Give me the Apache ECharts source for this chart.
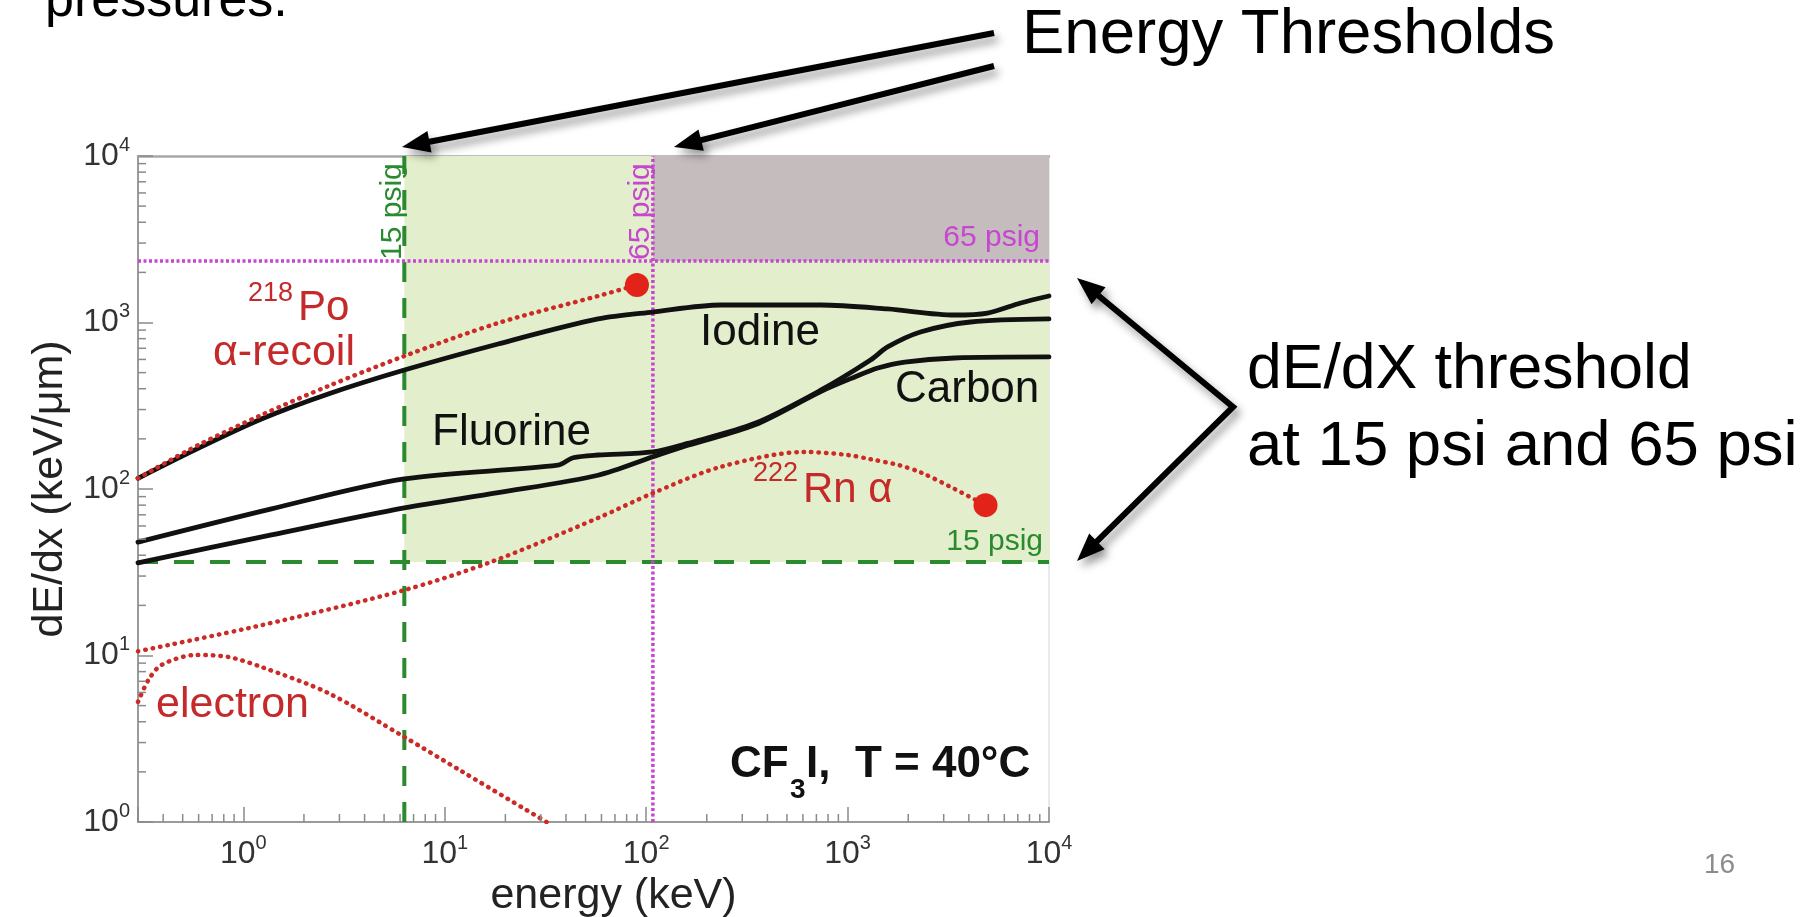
<!DOCTYPE html>
<html><head><meta charset="utf-8">
<script src="https://cdn.jsdelivr.net/npm/echarts@6/dist/echarts.min.js"></script>
<style>html,body{margin:0;padding:0;background:#fff}#c{width:1810px;height:917px}</style>
</head><body><div id="c"></div>
<script>
// ---------------- data ----------------
const xRange = [0.3, 10000];          // energy (keV)
const yRange = [1, 10000];            // dE/dx (keV/um)
const tickValues = [1, 10, 100, 1000, 10000];
const thresholdNames = ['15 psig', '65 psig'];
const thresholdEnergy = [6.3, 108];   // vertical energy thresholds
const thresholdDEDX = [36.5, 2340];   // horizontal dE/dx thresholds

const iodine   = [[0.3,116],[0.6,176],[1.23,263],[2.64,372],[6.3,518],[18.4,743],[57.7,1050],[108,1156],[235,1274],[736,1274],[1580,1206],[3400,1109],[4950,1140],[7230,1310],[10000,1443]];
const fluorine = [[0.3,48],[1.38,76],[6.3,115],[36.5,139],[43.4,154],[57.7,160],[108,167],[161,188],[347,248],[736,392],[1300,595],[1580,713],[2300,877],[4080,1007],[10000,1050]];
const carbon   = [[0.3,36],[1.38,53],[6.3,77],[18.4,95],[57.7,121],[108,156],[161,183],[347,243],[736,385],[1086,471],[1413,533],[1923,579],[3400,612],[10000,621]];
const po218    = [[0.3,116],[0.6,184],[1.23,278],[2.64,415],[6.3,629],[18.4,993],[57.7,1443],[90,1680]];
const rn222    = [[0.3,10.6],[1.23,15.2],[6.3,24.7],[17,36.5],[57.7,67],[108,94.5],[235,136],[614,167],[1000,160],[1300,151],[1800,139],[2300,126],[3400,100],[4840,80]];
const electron = [[0.3,5.26],[0.338,7.13],[0.392,8.77],[0.578,10.07],[0.843,9.8],[1.23,8.53],[2.64,5.95],[6.3,3.24],[12.1,2.02],[32,1.0]];
const alphaEnds = [[90,1680],[4840,80]];

// minor (2..9 per decade) tick positions of the log axes
const minorX = [], minorY = [];
for (let d = -1; d <= 3; d++) for (let m = 2; m <= 9; m++) { const v = m * Math.pow(10, d); if (v > xRange[0] && v < xRange[1]) minorX.push(v); }
for (let d = 0; d <= 3; d++) for (let m = 2; m <= 9; m++) minorY.push(m * Math.pow(10, d));

// ---------------- styles ----------------
const FONT = "'Liberation Sans', Arial, Helvetica, sans-serif";
const RED = '#cc2a26', RED_TXT = '#c42a2a', GREEN = '#2a8a2e', MAG = '#c646d0', BLACK = '#111';
const GREEN_FILL = '#e3efcc', GREY_FILL = '#c5bdbd';

const chart = echarts.init(document.getElementById('c'), null, {renderer: 'canvas'});

function pow10Label(v) {
  const e = Math.round(Math.log10(v));
  if (Math.abs(Math.log10(v) - e) > 1e-6) return '';
  return '{b|10}{s|' + e + '}';
}
const richLabel = {
  b: {fontSize: 32, lineHeight: 42, color: '#333', fontFamily: FONT},
  s: {fontSize: 20, lineHeight: 20, verticalAlign: 'top', color: '#333', fontFamily: FONT}
};

function lineSeries(data, color, width, type, z) {
  return {type: 'line', data, symbol: 'none', smooth: 0.3, silent: true, z: z || 5,
    lineStyle: {color, width, type, cap: 'round', join: 'round'}};
}
function straight(data, color, width, type, z) {
  return {type: 'line', data, symbol: 'none', smooth: false, silent: true, z: z || 3,
    lineStyle: {color, width, type}};
}
const dotted = [0.5, 7];

function T(text, x, baseline, size, color, o) {
  o = o || {};
  return {type: 'text', x: x, y: baseline - 0.35 * size, z: 100, silent: true,
    style: {text, fontSize: size, fontFamily: FONT, fontWeight: o.bold ? 'bold' : 'normal',
      fill: color || '#000', align: o.align || 'left', verticalAlign: 'middle'}};
}
function TV(text, baselineX, startY, size, color) {
  // rotated 90deg counter-clockwise, reading upward
  return {type: 'text', x: baselineX - 0.35 * size, y: startY, rotation: Math.PI / 2, z: 100, silent: true,
    style: {text, fontSize: size, fontFamily: FONT, fill: color, align: 'left', verticalAlign: 'middle'}};
}
const SH = {shadowBlur: 8, shadowColor: 'rgba(0,0,0,0.4)', shadowOffsetX: 4, shadowOffsetY: 6};
function head(tx, ty, fx, fy) {
  const dx = tx - fx, dy = ty - fy, L = Math.hypot(dx, dy), ux = dx / L, uy = dy / L, len = 28, hw = 11;
  const bx = tx - ux * len, by = ty - uy * len;
  return {type: 'polygon', z: 90, silent: true,
    shape: {points: [[tx, ty], [bx - uy * hw, by + ux * hw], [bx + uy * hw, by - ux * hw]]},
    style: Object.assign({fill: '#000'}, SH)};
}
function base(tx, ty, fx, fy) {
  const dx = tx - fx, dy = ty - fy, L = Math.hypot(dx, dy);
  return [tx - dx / L * 24, ty - dy / L * 24];
}
function arrow(fx, fy, tx, ty) {
  const b = base(tx, ty, fx, fy);
  return [{type: 'line', z: 90, silent: true, shape: {x1: fx, y1: fy, x2: b[0], y2: b[1]},
    style: Object.assign({stroke: '#000', lineWidth: 6}, SH)}, head(tx, ty, fx, fy)];
}

const vx = 1233, vy = 407;
const b1 = base(1077, 278, vx, vy), b2 = base(1077, 561, vx, vy);
const graphics = [].concat(
  arrow(994, 33, 402, 147),
  arrow(994, 66, 674, 147),
  [{type: 'polyline', z: 90, silent: true, shape: {points: [b1, [vx, vy], b2]},
    style: Object.assign({stroke: '#000', lineWidth: 6, fill: null, lineJoin: 'miter'}, SH)},
   head(1077, 278, vx, vy), head(1077, 561, vx, vy)],
  [
    T('pressures.', 45, 20, 52, '#000'),
    T('Energy Thresholds', 1022, 58, 63.5, '#000'),
    T('dE/dX threshold', 1247, 393, 62.5, '#000'),
    T('at 15 psi and 65 psi', 1247, 470, 63.5, '#000'),
    T('16', 1704, 875, 28, '#8c8c8c'),
    T('218', 248, 303, 27, RED_TXT),
    T('Po', 298, 323, 42, RED_TXT),
    T('\u03b1-recoil', 213, 368, 43, RED_TXT),
    T('Fluorine', 432, 448, 44, BLACK),
    T('Iodine', 700, 348, 44, BLACK),
    T('Carbon', 895, 405, 44, BLACK),
    T('222', 753, 483, 27, RED_TXT),
    T('Rn \u03b1', 803, 505, 42, RED_TXT),
    T('electron', 156, 720, 43, RED_TXT),
    T('CF', 730, 780, 44, BLACK, {bold: true}),
    T('3', 790, 800, 28, BLACK, {bold: true}),
    T('I,  T = 40\u00b0C', 806, 780, 44, BLACK, {bold: true}),
    T(thresholdNames[1], 1040, 248, 30, MAG, {align: 'right'}),
    T(thresholdNames[0], 1043, 552, 30, GREEN, {align: 'right'}),
    TV(thresholdNames[0], 403, 260, 30, GREEN),
    TV(thresholdNames[1], 651, 260, 30, MAG)
  ]
);

const option = {
  animation: false,
  backgroundColor: '#fff',
  textStyle: {fontFamily: FONT},
  grid: {left: 138, top: 156, width: 911, height: 666, show: false, outerBoundsMode: 'none', containLabel: false},
  xAxis: [{
    type: 'log', logBase: 10, min: xRange[0], max: xRange[1],
    name: 'energy (keV)', nameLocation: 'middle', nameGap: 52,
    nameTextStyle: {fontSize: 43, color: '#222', fontFamily: FONT, padding: [0, 0, 0, 40]},
    axisLine: {show: true, onZero: false, lineStyle: {color: '#9a9a9a', width: 2}},
    axisTick: {show: true, inside: true, length: 15, lineStyle: {color: '#8a8a8a', width: 1.5}},
    axisLabel: {margin: 11, formatter: pow10Label, rich: richLabel, showMinLabel: true, showMaxLabel: true},
    splitLine: {show: false}, minorTick: {show: false}, minorSplitLine: {show: false}
  }, {
    type: 'log', logBase: 10, min: xRange[0], max: xRange[1], position: 'top',
    axisLine: {show: true, lineStyle: {color: '#a8a8a8', width: 2.5}},
    axisTick: {show: false}, axisLabel: {show: false}, splitLine: {show: false}
  }],
  yAxis: [{
    type: 'log', logBase: 10, min: yRange[0], max: yRange[1],
    name: 'dE/dx (keV/\u03bcm)', nameLocation: 'middle', nameGap: 66, nameRotate: 90,
    nameTextStyle: {fontSize: 43, color: '#222', fontFamily: FONT},
    axisLine: {show: true, onZero: false, lineStyle: {color: '#9a9a9a', width: 2}},
    axisTick: {show: true, inside: true, length: 15, lineStyle: {color: '#8a8a8a', width: 1.5}},
    axisLabel: {margin: 8, formatter: pow10Label, rich: richLabel},
    splitLine: {show: false}, minorTick: {show: false}, minorSplitLine: {show: false}
  }, {
    type: 'log', logBase: 10, min: yRange[0], max: yRange[1], position: 'right',
    axisLine: {show: true, lineStyle: {color: '#e2e2e2', width: 1.5}},
    axisTick: {show: false}, axisLabel: {show: false}, splitLine: {show: false}
  }],
  series: [
    {type: 'line', data: [[xRange[0], yRange[0]]], symbol: 'none', silent: true, z: 1,
     lineStyle: {opacity: 0},
     markArea: {silent: true, data: [
       [{xAxis: thresholdEnergy[0], yAxis: thresholdDEDX[0], itemStyle: {color: GREEN_FILL}}, {xAxis: xRange[1], yAxis: yRange[1]}],
       [{xAxis: thresholdEnergy[1], yAxis: thresholdDEDX[1], itemStyle: {color: GREY_FILL}}, {xAxis: xRange[1], yAxis: yRange[1]}]
     ]}},
    straight([[thresholdEnergy[0], yRange[0]], [thresholdEnergy[0], yRange[1]]], GREEN, 4, [20, 16]),
    straight([[xRange[0], thresholdDEDX[0]], [xRange[1], thresholdDEDX[0]]], GREEN, 4, [20, 16]),
    straight([[thresholdEnergy[1], yRange[0]], [thresholdEnergy[1], yRange[1]]], MAG, 3.5, [3, 2.5]),
    straight([[xRange[0], thresholdDEDX[1]], [xRange[1], thresholdDEDX[1]]], MAG, 3.5, [3, 2.5]),
    lineSeries(iodine, BLACK, 4.8, 'solid', 6),
    lineSeries(fluorine, BLACK, 4.8, 'solid', 6),
    lineSeries(carbon, BLACK, 4.8, 'solid', 6),
    lineSeries(po218, RED, 4.5, dotted, 7),
    lineSeries(rn222, RED, 4.5, dotted, 7),
    lineSeries(electron, RED, 4.5, dotted, 7),
    {type: 'scatter', data: alphaEnds, symbol: 'circle', symbolSize: 24, silent: true, z: 8,
     itemStyle: {color: '#e2231a', opacity: 1}},
    {type: 'custom', silent: true, z: 9, clip: false,
     data: minorX.map(v => [v, yRange[0], 0]).concat(minorY.map(v => [xRange[0], v, 1])),
     renderItem: function (params, api) {
       const p = api.coord([api.value(0), api.value(1)]);
       const horiz = api.value(2) === 1;
       return {type: 'line',
         shape: horiz ? {x1: p[0], y1: p[1], x2: p[0] + 8, y2: p[1]} : {x1: p[0], y1: p[1], x2: p[0], y2: p[1] - 8},
         style: {stroke: '#8a8a8a', lineWidth: 1.5}};
     }}
  ],
  graphic: graphics
};
chart.setOption(option);
</script>
</body></html>
